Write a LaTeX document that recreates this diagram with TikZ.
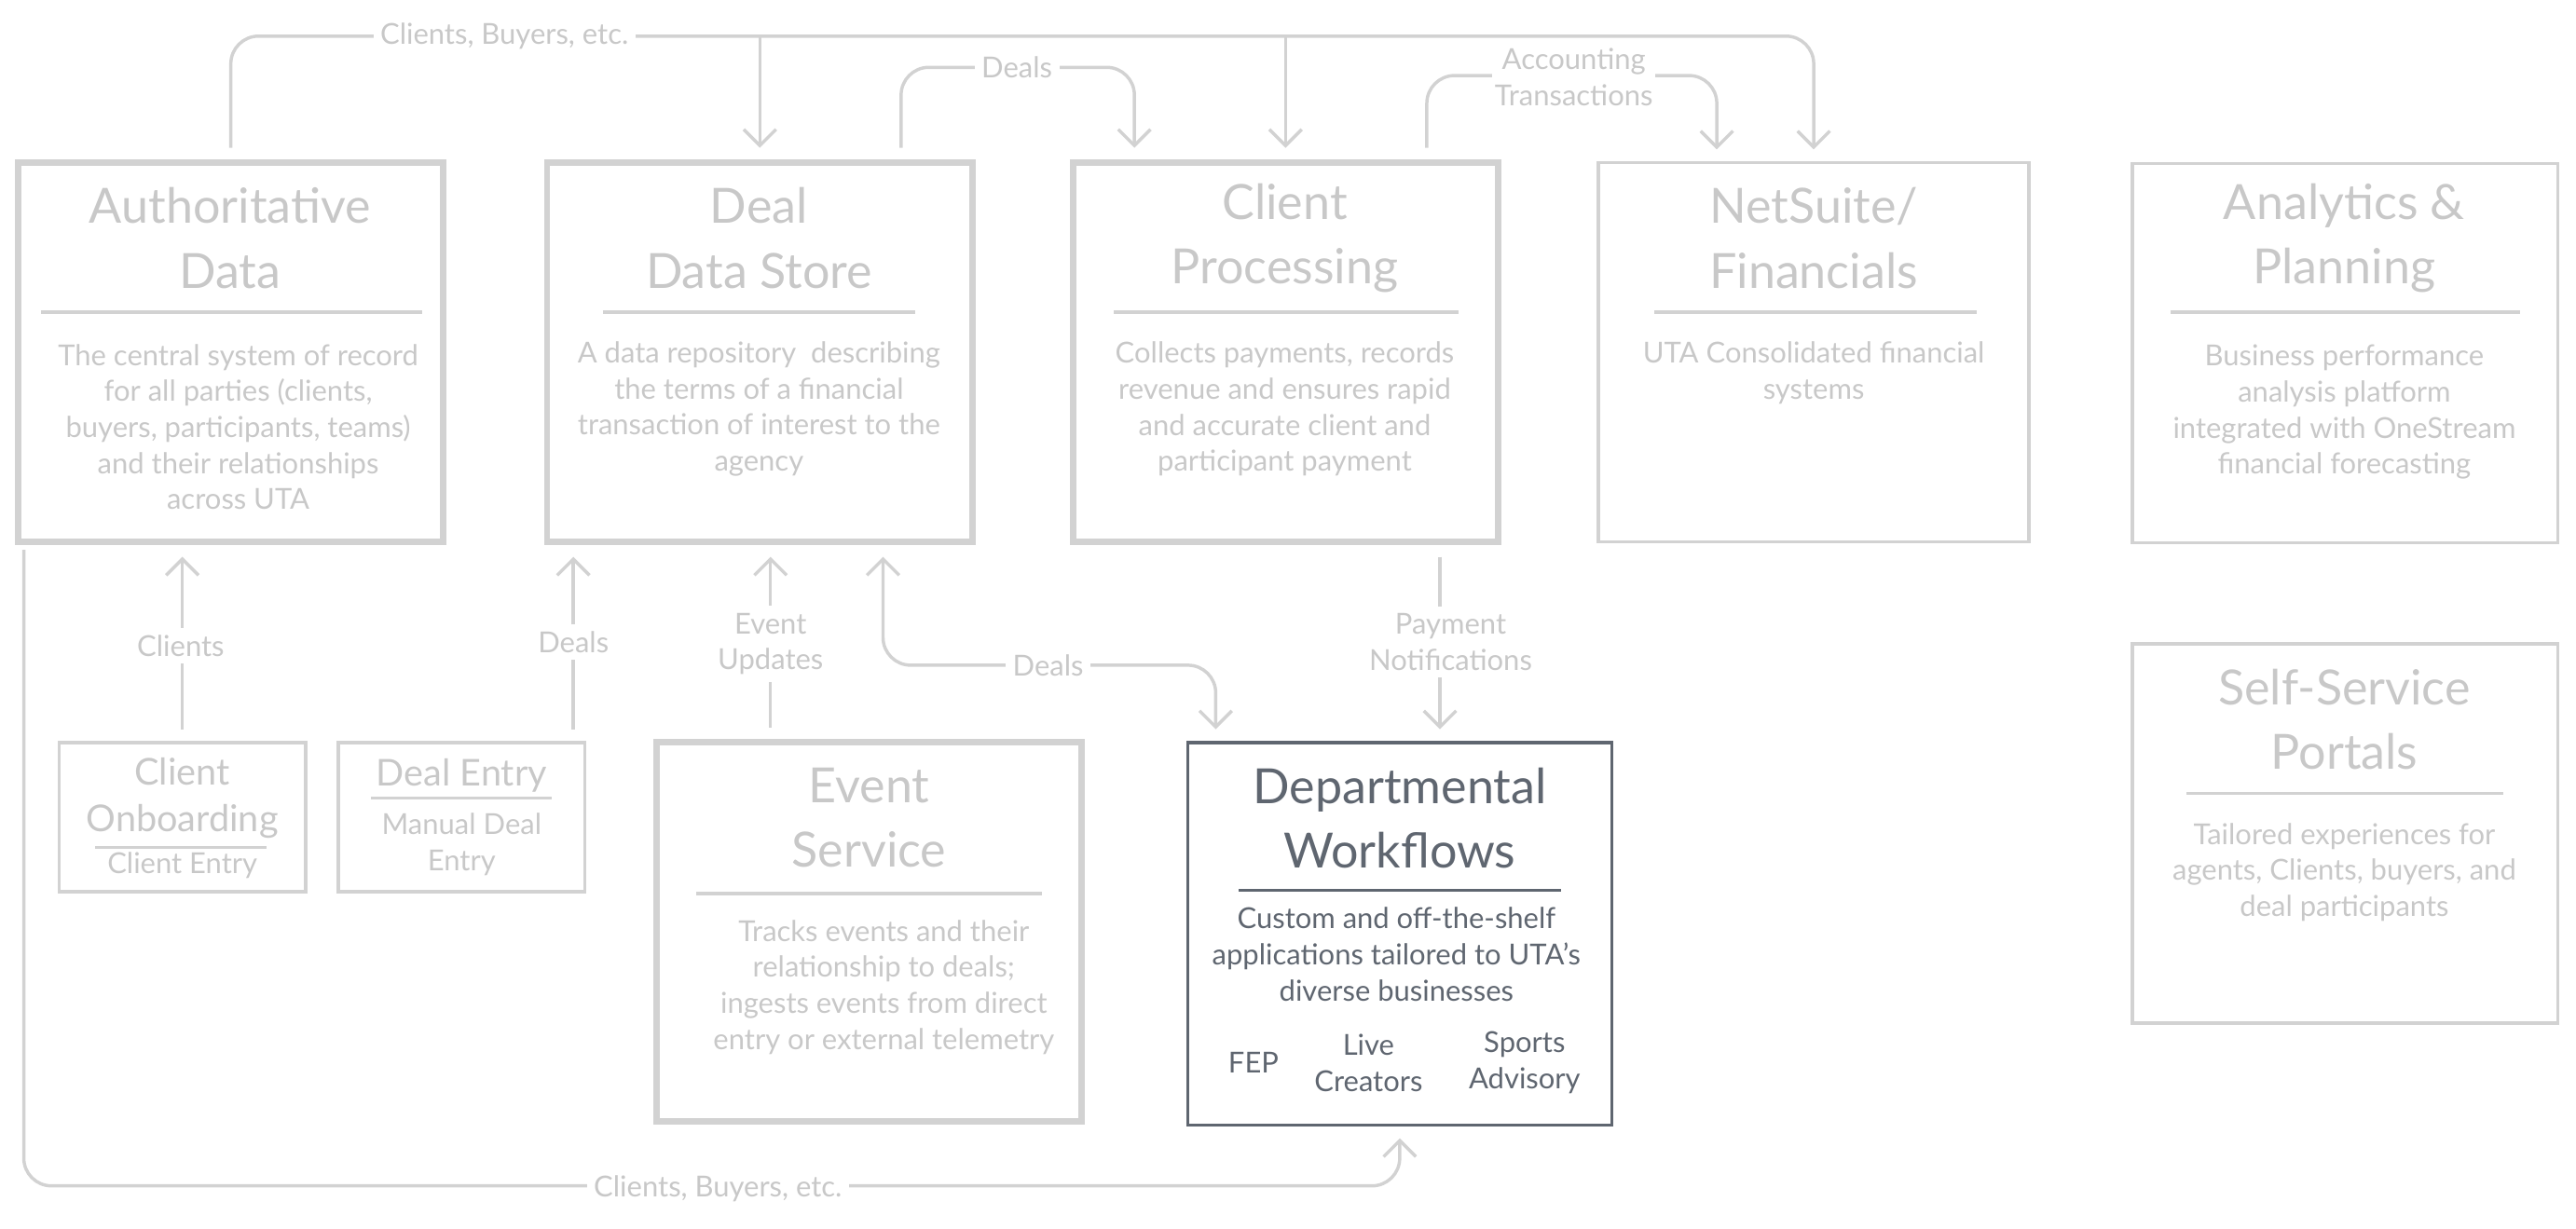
\documentclass[tikz,border=0pt]{standalone}
\usepackage{fontspec}
\setmainfont{Lato}
\usetikzlibrary{arrows.meta,calc,positioning}
\definecolor{lightg}{HTML}{D2D2D2}
\definecolor{textg}{HTML}{C8C8C8}
\definecolor{darkg}{HTML}{5F6670}
\tikzset{
  heavy/.style={draw=lightg,line width=2.8pt,minimum width=259*0.025cm,minimum height=231*0.025cm},
  light/.style={draw=lightg,line width=1.4pt,minimum width=259*0.025cm,minimum height=231*0.025cm},
  ttl/.style={text=textg,align=center,font=\fontsize{21}{28}\selectfont},
  desc/.style={text=textg,align=center,font=\fontsize{12.5}{15.6}\selectfont},
  rule/.style={lightg,line width=1.4pt},
  link/.style={draw=lightg,line width=1.4pt,rounded corners=12pt,-{Straight Barb[length=7pt,width=14pt]},shorten >=5pt,shorten <=5pt},
  lbl/.style={fill=white,text=textg,align=center,inner sep=3pt,font=\fontsize{12.5}{15.6}\selectfont},
}
\begin{document}
\begin{tikzpicture}[x=0.025cm,y=-0.025cm]
\useasboundingbox (0,0) rectangle (1568,748);
% boxes
\node[heavy] (auth) at (140.5,214.5) {};
\node[heavy] (deal) at (462.5,214.5) {};
\node[heavy] (proc) at (782.5,214.5) {};
\node[light,minimum width=262*0.025cm] (net) at (1104,214.5) {};
\node[light] (anal) at (1427.5,215) {};
\node[light] (self) at (1427.5,507.5) {};
\node[light,minimum width=150*0.025cm,minimum height=91*0.025cm] (onb) at (111,497.5) {};
\node[light,minimum width=150*0.025cm,minimum height=91*0.025cm] (dentry) at (281,497.5) {};
\node[heavy,minimum height=231*0.025cm] (event) at (529,567.5) {};
\node[draw=darkg,line width=1.4pt,minimum width=258*0.025cm,minimum height=233*0.025cm] (dept) at (852,568.5) {};
% texts
\node[ttl] (authT) at (140,145) {Authoritative\\Data};
\draw[rule] (25,190) -- (257,190);
\node[desc] (authD) at (145,260) {The central system of record\\for all parties (clients,\\buyers, participants, teams)\\and their relationships\\across UTA};
\node[ttl] (dealT) at (462,145) {Deal\\Data Store};
\draw[rule] (367,190) -- (557,190);
\node[desc] (dealD) at (462,249) {A data repository\ \ describing\\the terms of a financial\\transaction of interest to the\\agency};
\node[ttl] (procT) at (782,145) {Client\\Processing};
\draw[rule] (678,190) -- (888,190);
\node[desc] (procD) at (782,249) {Collects payments, records\\revenue and ensures rapid\\and accurate client and\\participant payment};
\node[ttl] (netT) at (1104,145) {NetSuite/\\Financials};
\draw[rule] (1007,190) -- (1203,190);
\node[desc] (netD) at (1104,227) {UTA Consolidated financial\\systems};
\node[ttl] (analT) at (1427,145) {Analytics \&\\Planning};
\draw[rule] (1321,190) -- (1534,190);
\node[desc] (analD) at (1427,251) {Business performance\\analysis platform\\integrated with OneStream\\financial forecasting};
\node[ttl] (selfT) at (1427,438) {Self-Service\\Portals};
\draw[rule] (1331,483) -- (1524,483);
\node[desc] (selfD) at (1427,531) {Tailored experiences for\\agents, Clients, buyers, and\\deal participants};
\node[ttl,font=\fontsize{16}{20}\selectfont] (onbT) at (111,486) {Client\\Onboarding};
\draw[rule] (58,516) -- (162,516);
\node[desc] (onbD) at (111,527) {Client Entry};
\node[ttl,font=\fontsize{16}{20}\selectfont] (dentryT) at (281,472) {Deal Entry};
\draw[rule] (226,486) -- (336,486);
\node[desc] (dentryD) at (281,514) {Manual Deal\\Entry};
\node[ttl] (eventT) at (529,498) {Event\\Service};
\draw[rule] (424,544) -- (634,544);
\node[desc] (eventD) at (538,601) {Tracks events and their\\relationship to deals;\\ingests events from direct\\entry or external telemetry};
\node[ttl,text=darkg] (deptT) at (852,498) {Departmental\\Workflows};
\draw[darkg,line width=1pt] (754,542) -- (950,542);
\node[desc,text=darkg] (deptD) at (850,581) {Custom and off-the-shelf\\applications tailored to UTA's\\diverse businesses};
\node[desc,text=darkg] (fep) at (763,647) {FEP};
\node[desc,text=darkg] (live) at (833,647) {Live\\Creators};
\node[desc,text=darkg] (sport) at (928,647) {Sports\\Advisory};
% connectors
\draw[link] (auth.north) |- (758,22) coordinate (bus) -| (net.north);
\node[lbl] at (307,22) {Clients, Buyers, etc.};
\draw[link,shorten <=0pt] (deal.north |- bus) -- (deal.north);
\draw[link,shorten <=0pt] (proc.north |- bus) -- (proc.north);
\draw[link] ($(deal.north)+(86,0)$) |- (620,41) -| ($(proc.north)+(-92,0)$);
\node[lbl] at (619,41) {Deals};
\draw[link] ($(proc.north)+(86,0)$) |- (960,46) -| ($(net.north)+(-59,0)$);
\node[lbl,inner sep=1pt] at (958,47) {Accounting\\Transactions};
\draw[link] (onb.north) -- (onb.north |- auth.south);
\node[lbl] at (110,393) {Clients};
\draw[link] ($(dentry.north)+(68,0)$) coordinate (de) -- (de |- deal.south);
\node[lbl] at (349,391) {Deals};
\draw[link] ($(event.north)+(-60,0)$) coordinate (ev) -- (ev |- deal.south);
\node[lbl] at (469,392) {Event\\Updates};
\draw[link,{Straight Barb[length=7pt,width=14pt]}-{Straight Barb[length=7pt,width=14pt]}] ($(deal.south)+(75,0)$) |- (640,405) -| ($(dept.north)+(-112,0)$);
\node[lbl] at (638,405) {Deals};
\draw[link] ($(proc.south)+(94,0)$) coordinate (pn) -- (pn |- dept.north);
\node[lbl] at (883,391) {Payment\\Notifications};
\draw[link,shorten <=2pt] ($(auth.south)+(-126,0)$) |- (400,722) -| (dept.south);
\node[lbl] at (437,724) {Clients, Buyers, etc.};
\end{tikzpicture}
\end{document}
